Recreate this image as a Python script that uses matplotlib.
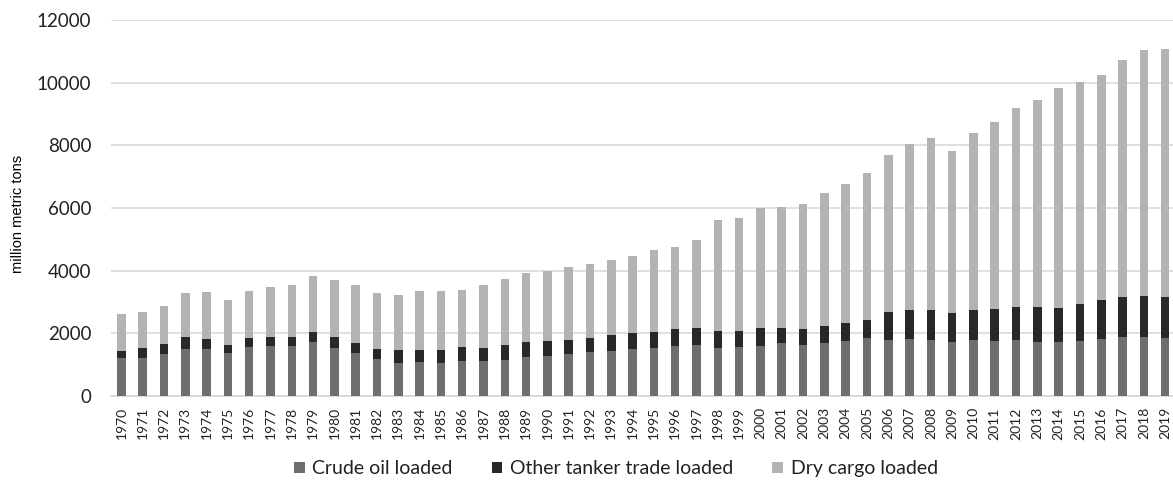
import matplotlib.pyplot as plt
import numpy as np

years = list(range(1970, 2020))

# million metric tons
crude = [1200, 1200, 1330, 1510, 1500, 1370, 1560, 1605, 1605, 1735,
         1520, 1370, 1170, 1065, 1085, 1055, 1130, 1115, 1160, 1255,
         1290, 1330, 1395, 1445, 1500, 1520, 1585, 1615, 1545, 1555,
         1605, 1680, 1640, 1680, 1765, 1860, 1785, 1810, 1785, 1725,
         1785, 1745, 1775, 1735, 1725, 1765, 1820, 1870, 1870, 1850]
other_tanker = [245, 320, 320, 360, 320, 255, 280, 280, 290, 310,
                350, 310, 330, 390, 395, 400, 425, 430, 455, 470,
                455, 455, 465, 490, 500, 525, 545, 555, 530, 520,
                555, 490, 500, 545, 555, 555, 905, 935, 960, 915,
                960, 1030, 1065, 1095, 1095, 1170, 1245, 1290, 1320, 1310]
dry_cargo = [1160, 1170, 1225, 1405, 1490, 1435, 1520, 1585, 1650, 1785,
             1830, 1870, 1775, 1765, 1885, 1895, 1830, 2000, 2120, 2210,
             2255, 2330, 2360, 2405, 2480, 2615, 2640, 2800, 3540, 3605,
             3830, 3850, 3990, 4255, 4435, 4700, 5010, 5295, 5490, 5180,
             5660, 5960, 6360, 6625, 7000, 7075, 7180, 7555, 7840, 7915]

c_crude = "#6e6e6e"
c_other = "#282828"
c_dry = "#b3b3b3"

plt.rcParams['font.family'] = ['Lato', 'DejaVu Sans']

fig = plt.figure(figsize=(11.73, 4.86), dpi=100)
ax = fig.add_axes([0.0944, 0.185, 0.908, 0.774])

x = np.arange(len(years))
crude_a = np.array(crude)
other_a = np.array(other_tanker)
dry_a = np.array(dry_cargo)

w = 0.4
ax.bar(x, crude_a, w, color=c_crude, label="Crude oil loaded", zorder=3)
ax.bar(x, other_a, w, bottom=crude_a, color=c_other,
       label="Other tanker trade loaded", zorder=3)
ax.bar(x, dry_a, w, bottom=crude_a + other_a, color=c_dry,
       label="Dry cargo loaded", zorder=3)

ax.set_xlim(-0.5, len(years) - 0.5)
ax.set_ylim(0, 12000)
ax.set_yticks(range(0, 12001, 2000))
ax.set_xticks(x)
ax.set_xticklabels([str(y) for y in years], rotation=90, fontsize=10, color="#222222")
ax.tick_params(axis='y', length=0, pad=14, labelsize=13.5, labelcolor="#222222")
ax.tick_params(axis='x', length=0, pad=8)

ax.grid(axis='y', color="#dadada", linewidth=1.2, zorder=0)
for s in ["top", "right", "left"]:
    ax.spines[s].set_visible(False)
ax.spines["bottom"].set_color("#d6d6d6")
ax.spines["bottom"].set_linewidth(1.2)

fig.text(0.0155, 0.56, "million metric tons", rotation=90, fontsize=10.5,
         family=['Liberation Sans', 'DejaVu Sans'], ha='center', va='center')

fig.legend(loc='center', bbox_to_anchor=(0.525, 0.035), ncol=3, frameon=False,
           fontsize=14, handlelength=0.55, handleheight=0.55,
           handletextpad=0.4, columnspacing=2.0, labelcolor="#222222")

fig.savefig("out.png", dpi=100)
